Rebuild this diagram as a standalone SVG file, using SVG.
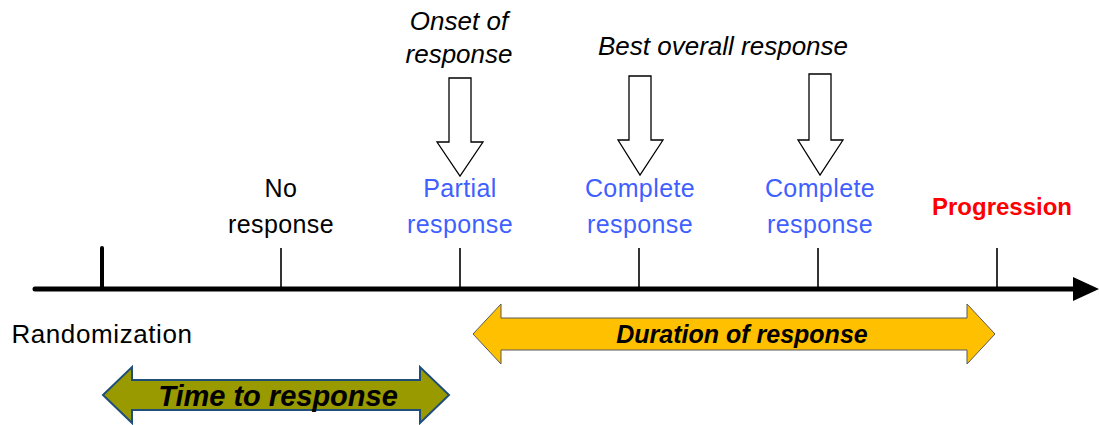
<svg xmlns="http://www.w3.org/2000/svg" width="1099" height="425" viewBox="0 0 1099 425">
<style>
.t{font-family:"Liberation Sans",Arial,sans-serif;font-size:25px;text-anchor:middle;fill:#000;letter-spacing:0.4px}
.blue{fill:#3F5FFF}
.it{font-style:italic;font-size:26px;letter-spacing:0}
.tick{stroke:#000;stroke-width:1.6}
.hollow{fill:#fff;stroke:#000;stroke-width:1.3}
</style>
<rect width="1099" height="425" fill="#fff"/>
<g id="axis">
<line x1="35" y1="289" x2="1076" y2="289" stroke="#000" stroke-width="5" stroke-linecap="round"/>
<polygon points="1073,277 1099,289 1073,301" fill="#000"/>
<line x1="102" y1="248" x2="102" y2="289" stroke="#000" stroke-width="4" stroke-linecap="round"/>
</g>
<g id="ticks">
<line class="tick" x1="281" y1="248" x2="281" y2="289"/>
<line class="tick" x1="460" y1="248" x2="460" y2="289"/>
<line class="tick" x1="639" y1="248" x2="639" y2="289"/>
<line class="tick" x1="818" y1="248" x2="818" y2="289"/>
<line class="tick" x1="997" y1="248" x2="997" y2="289"/>
</g>
<g id="randomization"><text class="t" x="102" y="343" style="font-size:26px;letter-spacing:0.6px">Randomization</text></g>
<g id="no-response"><text class="t" x="281" y="197">No</text><text class="t" x="281" y="233">response</text></g>
<g id="partial-response"><text class="t blue" x="460" y="197">Partial</text><text class="t blue" x="460" y="233">response</text></g>
<g id="complete-response-1"><text class="t blue" x="640" y="197">Complete</text><text class="t blue" x="640" y="233">response</text></g>
<g id="complete-response-2"><text class="t blue" x="820" y="197">Complete</text><text class="t blue" x="820" y="233">response</text></g>
<g id="progression"><text class="t" x="1002" y="215" style="font-weight:bold;font-size:24px;fill:#FF0000;letter-spacing:0">Progression</text></g>
<g id="onset"><text class="t it" x="459" y="30">Onset of</text><text class="t it" x="459" y="63">response</text></g>
<g id="best-overall"><text class="t it" x="723" y="55">Best overall response</text></g>
<g id="connectors">
<polygon class="hollow" points="449,78 471,78 471,142 483,142 460,176 437,142 449,142"/>
<polygon class="hollow" points="629,76 651,76 651,140 663,140 640,175 618,140 629,140"/>
<polygon class="hollow" points="809,74 831,74 831,140 843,140 820,175 798,140 809,140"/>
</g>
<g id="duration">
<polygon points="473,334 501,304 501,318 967,318 967,304 995,334 967,364 967,350 501,350 501,364" fill="#FFC000" stroke="#595959" stroke-width="1"/>
<text class="t" x="742" y="343" style="font-weight:bold;font-style:italic;letter-spacing:0">Duration of response</text>
</g>
<g id="time-to-response">
<polygon points="103,395 132,367 132,380 420,380 420,367 449,395 420,423 420,410 132,410 132,423" fill="#999900" stroke="#1F4E79" stroke-width="2"/>
<text class="t" x="278" y="406" style="font-weight:bold;font-style:italic;font-size:29px;letter-spacing:0">Time to response</text>
</g>
</svg>
